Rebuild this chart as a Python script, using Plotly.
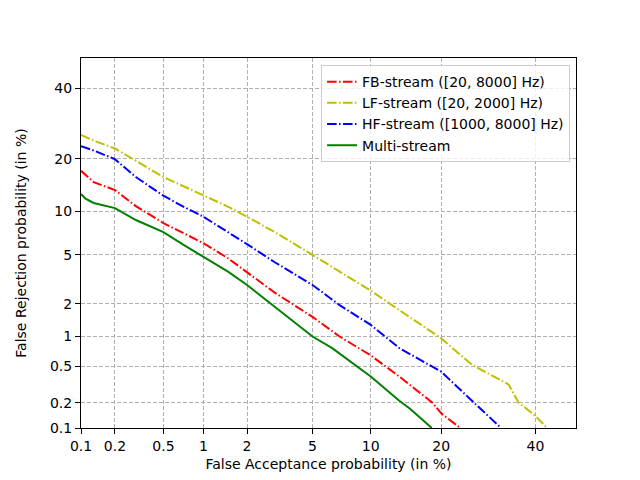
from statistics import NormalDist
import plotly.graph_objects as go

# DET curves, values in percent
fb_fa = [0.1, 0.11, 0.13, 0.2, 0.3, 0.5, 0.7, 1, 1.5, 2, 3, 5, 7, 10, 13.5, 18.5, 20, 23.5]
fb_fr = [17.3, 16.5, 15.0, 13.5, 10.8, 8.4, 7.2, 6.1, 4.7, 3.7, 2.5, 1.53, 1.0, 0.65, 0.39, 0.2, 0.15, 0.1]

lf_fa = [0.1, 0.13, 0.2, 0.3, 0.5, 0.7, 1, 1.5, 2, 3, 5, 7, 10, 13.5, 20, 25.8, 31.5, 33.7, 36, 40, 42.8]
lf_fr = [26.0, 24.5, 22.5, 19.5, 16.0, 14.3, 12.6, 10.7, 9.25, 7.3, 5.0, 3.7, 2.6, 1.76, 0.96, 0.52, 0.36, 0.32, 0.2, 0.14, 0.1]

hf_fa = [0.1, 0.13, 0.2, 0.3, 0.5, 0.7, 1, 1.5, 2, 3, 5, 7, 10, 13.5, 20, 25.8, 32]
hf_fr = [23.1, 22.0, 19.9, 16.0, 12.5, 10.8, 9.25, 7.3, 6.0, 4.4, 2.9, 1.95, 1.29, 0.77, 0.44, 0.21, 0.1]

ms_fa = [0.1, 0.11, 0.13, 0.2, 0.3, 0.5, 0.7, 1, 1.5, 2, 3, 5, 6.4, 10, 13.5, 15, 18.4]
ms_fr = [12.8, 12.0, 11.3, 10.5, 8.8, 7.3, 6.0, 4.85, 3.7, 2.9, 1.9, 1.0, 0.77, 0.39, 0.21, 0.17, 0.1]

ticks = [0.1, 0.2, 0.5, 1, 2, 5, 10, 20, 40]

nd = NormalDist()


def probit(vals):
    return [nd.inv_cdf(v / 100.0) for v in vals]


dashdot = "9.6px,2.4px,1.5px,2.4px"

fig = go.Figure()
fig.add_trace(go.Scatter(x=probit(fb_fa), y=probit(fb_fr), mode="lines",
                         name="FB-stream ([20, 8000] Hz)",
                         line=dict(color="#ff0000", width=2, dash=dashdot)))
fig.add_trace(go.Scatter(x=probit(lf_fa), y=probit(lf_fr), mode="lines",
                         name="LF-stream ([20, 2000] Hz)",
                         line=dict(color="#bfbf00", width=2, dash=dashdot)))
fig.add_trace(go.Scatter(x=probit(hf_fa), y=probit(hf_fr), mode="lines",
                         name="HF-stream ([1000, 8000] Hz)",
                         line=dict(color="#0000ff", width=2, dash=dashdot)))
fig.add_trace(go.Scatter(x=probit(ms_fa), y=probit(ms_fr), mode="lines",
                         name="Multi-stream",
                         line=dict(color="#008000", width=2)))

rng = [nd.inv_cdf(0.001), nd.inv_cdf(0.5)]
tick_text = [str(t) for t in ticks]

axis_style = dict(
    range=rng, tickvals=probit(ticks), ticktext=tick_text,
    showgrid=True, gridcolor="#b0b0b0", griddash="4px,2px", gridwidth=1,
    showline=True, linecolor="black", linewidth=1, mirror=True,
    ticks="outside", ticklen=5, tickcolor="black", zeroline=False,
    tickfont=dict(size=14, color="black"),
)

fig.update_xaxes(title=dict(text="False Acceptance probability (in %)",
                            font=dict(size=14, color="black"), standoff=6),
                 **axis_style)
fig.update_yaxes(title=dict(text="False Rejection probability (in %)",
                            font=dict(size=14, color="black"), standoff=20),
                 **axis_style)

# page body adds 8px, so margins are shifted to keep the plot box in place
fig.update_layout(
    width=640, height=480,
    margin=dict(l=73, r=72, t=50, b=60),
    paper_bgcolor="white", plot_bgcolor="white",
    font=dict(family="DejaVu Sans", size=14, color="black"),
    legend=dict(x=0.988, y=0.981, xanchor="right", yanchor="top",
                bgcolor="rgba(255,255,255,0.8)", bordercolor="#cccccc",
                borderwidth=1, font=dict(size=14), tracegroupgap=0),
    showlegend=True,
)

fig.write_html("out.html")
